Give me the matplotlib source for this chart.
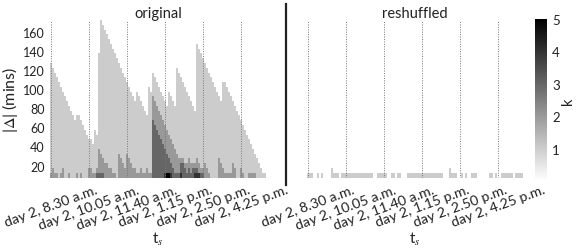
import numpy as np
import matplotlib
matplotlib.use("Agg")
import matplotlib.pyplot as plt
from matplotlib.lines import Line2D

plt.rcParams['font.family'] = ['Lato', 'DejaVu Sans']
plt.rcParams['mathtext.fontset'] = 'stix'

tick_labels = ["day 2, 8.30 a.m.", "day 2, 10.05 a.m.", "day 2, 11.40 a.m.",
               "day 2, 1.15 p.m.", "day 2, 2.50 p.m.", "day 2, 4.25 p.m."]
y_ticks = [20, 40, 60, 80, 100, 120, 140, 160]
cbar_ticks = [1, 2, 3, 4, 5]
delta_rows = list(range(10, 175, 5))

# highest |Δ| row (mins) at which k reaches at least 1, 2, 3, 4, 5, per time column
original_k1 = [125,120,115,110,105,100,95,90,85,80,75,70,65,
               70,70,65,60,55,50,45,45,40,55,50,135,
               170,165,160,155,150,145,140,135,130,125,120,115,110,105,100,
               95,90,85,95,90,85,80,75,70,100,95,
               115,110,105,100,95,90,85,80,
               95,90,85,80,
               120,115,110,105,100,95,90,85,80,75,
               145,140,135,130,125,120,115,110,105,100,95,90,85,
               105,105,100,95,90,85,80,75,70,65,60,55,50,45,40,35,30,25,20,15,10,10]
original_k2 = [10,15,10,10,0,10,15,0,0,10,
               0,0,0,10,0,10,0,0,0,15,
               15,10,10,15,35,30,25,20,20,15,
               15,10,10,0,30,25,20,15,30,25,
               20,15,15,10,10,15,10,10,15,10,10,
               90,85,80,75,70,65,60,55,50,45,40,35,30,
               25,25,25,20,20,25,20,20,20,25,20,15,15,20,15,10,
               0,0,0,0,
               25,20,15,10,10,10,10,20,15,0,0,
               15,10,0,0,
               10,10,10,10,
               0,0,0,0,0]
original_k3 = [0]*23 + [10,10,10,10] + [0]*24 + \
              [65,60,55,50,45,40,35,30,25,20,15,10] + \
              [10,10,20,20,15,10,15,10,15,15,15,10,10,10] + [0]*31
original_k4 = [0]*57 + [10,10,10,10] + [0]*4 + [10] + [0]*6 + [10,10,10] + [0]*33
original_k5 = [0]*58 + [10,10] + [0]*48

reshuffled_k1 = [10,10,10,0,0,10,0,10,0,0,0,0,
                 15,10,10,10,0,
                 10,10,10,10,10,10,10,10,10,10,10,10,10,10,10,10,
                 0,0,10,10,10,10,10,0,0,10,10,0,10,10,0,0,0,
                 10,10,10,10,10,10,10,10,10,10,10,10,10,10,10,10,10,10,
                 0,0,0,15,10,10,10,0,0,10,0,10,0,0,10,10,10,
                 0,0,0,0,0,0,10,10,0,10,0,0,10,10,10,10,10,10,0,10,10,10,10]


def grid_from(levels):
    rows = np.array(delta_rows)
    out = np.zeros((len(rows), len(levels[0])))
    for lev in levels:
        out += (rows[:, None] <= np.array(lev)[None, :]) & (np.array(lev)[None, :] > 0)
    return out


W, H = 581, 253
fig = plt.figure(figsize=(W / 100, H / 100), dpi=100)


def axes_px(x0, x1, y0, y1):
    return fig.add_axes([x0 / W, 1 - y1 / H, (x1 - x0) / W, (y1 - y0) / H])


ax1 = axes_px(50, 266, 21, 178.5)
ax2 = axes_px(307, 523, 21, 178.5)
cax = axes_px(534.5, 546.5, 20, 182)

x_edges = np.arange(len(original_k1) + 1) - 0.5
y_edges = np.array(delta_rows + [175]) - 2.5
tick_pos = np.arange(len(tick_labels)) * 19

mesh = None
data_panels = [
    (ax1, grid_from([original_k1, original_k2, original_k3, original_k4, original_k5]), "original"),
    (ax2, grid_from([reshuffled_k1]), "reshuffled"),
]
for ax, grid, title in data_panels:
    m = ax.pcolormesh(x_edges, y_edges, np.ma.masked_equal(grid, 0), cmap="gray_r",
                      vmin=0, vmax=5, shading="flat", linewidth=0)
    mesh = m if mesh is None else mesh
    ax.set_xlim(x_edges[0], x_edges[-1])
    ax.set_ylim(7.5, 172.5)
    ax.set_xticks(tick_pos)
    ax.set_xticklabels(tick_labels, rotation=20, ha="center", rotation_mode="default",
                       fontsize=10.2, color="#222222")
    ax.tick_params(axis="both", length=0, pad=4)
    ax.set_title(title, fontsize=10.5, pad=2, color="#222222")
    ax.set_xlabel(r"t$_{s}$", fontsize=11, color="#222222")
    ax.xaxis.set_label_coords(0.5, (178.5 - 231) / 157.5)
    for s in ax.spines.values():
        s.set_visible(False)
    ax.set_axisbelow(False)
    ax.xaxis.grid(True, linestyle=(0, (1, 1.5)), color="#777777", linewidth=0.7)

ax1.set_yticks(y_ticks)
ax1.tick_params(axis="y", labelsize=9, labelcolor="#222222", pad=4)
ax1.set_ylabel(r"|$\Delta$| (mins)", fontsize=11.5, color="#222222")
ax1.yaxis.set_label_coords((20 - 50) / 216, 0.5)
ax2.set_yticks([])

cb = fig.colorbar(mesh, cax=cax, ticks=cbar_ticks)
cb.outline.set_visible(False)
cb.ax.tick_params(length=0, labelsize=9.5, labelcolor="#222222", pad=4)
cb.set_label("k", fontsize=10.5, labelpad=1, color="#222222")

fig.add_artist(Line2D([286 / W, 286 / W], [1 - 5 / H, 1 - 186 / H], color="#222222", linewidth=1.6))

fig.savefig("out.png", dpi=100)
